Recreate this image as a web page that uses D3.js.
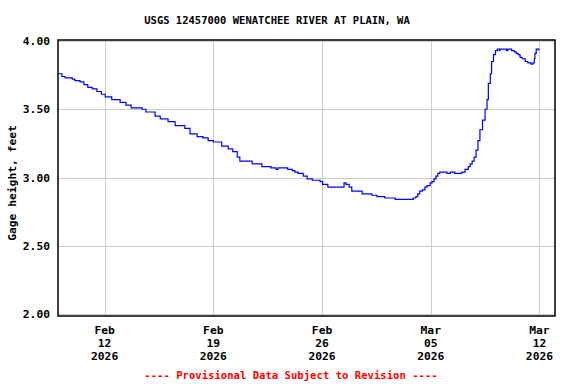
<!DOCTYPE html>
<html>
<head>
<meta charset="utf-8">
<script src="https://cdn.jsdelivr.net/npm/d3@7"></script>
<style>
  body { margin: 0; background: #fff; }
  text { font-family: "DejaVu Sans Mono", "Liberation Mono", monospace; font-weight: bold; }
</style>
</head>
<body>
<div id="chart"></div>
<script>
// data (UTC-ish timestamps, feet)
const times = [
  "2026-02-09 00:00","2026-02-09 06:00","2026-02-09 11:00","2026-02-09 22:00","2026-02-10 02:00",
  "2026-02-10 10:00","2026-02-10 16:00","2026-02-10 22:00","2026-02-11 05:00","2026-02-11 12:00",
  "2026-02-11 19:00","2026-02-12 01:00","2026-02-12 11:00","2026-02-13 00:00","2026-02-13 09:00",
  "2026-02-13 17:00","2026-02-14 10:00","2026-02-14 16:00","2026-02-15 06:00","2026-02-15 14:00",
  "2026-02-16 02:00","2026-02-16 13:00","2026-02-17 04:00","2026-02-17 12:00","2026-02-17 23:00",
  "2026-02-18 08:00","2026-02-18 16:00","2026-02-19 00:00","2026-02-19 13:00","2026-02-19 23:00",
  "2026-02-20 06:00","2026-02-20 13:00","2026-02-20 17:00","2026-02-21 12:00","2026-02-22 03:00",
  "2026-02-22 17:00","2026-02-23 01:00","2026-02-23 04:00","2026-02-23 19:00","2026-02-24 02:00",
  "2026-02-24 06:00","2026-02-24 11:00","2026-02-24 19:00","2026-02-25 01:00","2026-02-25 09:00",
  "2026-02-25 21:00","2026-02-26 01:00","2026-02-26 09:00","2026-02-27 10:00","2026-02-27 13:00",
  "2026-02-27 18:00","2026-02-27 22:00","2026-02-28 14:00","2026-03-01 05:00","2026-03-01 13:00",
  "2026-03-02 01:00","2026-03-02 17:00","2026-03-03 21:00","2026-03-04 01:00","2026-03-04 04:00",
  "2026-03-04 07:00","2026-03-04 11:00","2026-03-04 15:00","2026-03-04 18:00","2026-03-04 23:00",
  "2026-03-05 02:00","2026-03-05 05:00","2026-03-05 08:00","2026-03-05 11:00","2026-03-05 14:00",
  "2026-03-06 01:00","2026-03-06 06:00","2026-03-06 13:00","2026-03-07 00:00","2026-03-07 05:00",
  "2026-03-07 10:00","2026-03-07 13:00","2026-03-07 16:00","2026-03-07 19:00","2026-03-07 22:00",
  "2026-03-08 01:00","2026-03-08 04:00","2026-03-08 08:00","2026-03-08 12:00","2026-03-08 15:00",
  "2026-03-08 17:00","2026-03-08 20:00","2026-03-08 22:00","2026-03-09 01:00","2026-03-09 04:00",
  "2026-03-09 07:00","2026-03-09 10:00","2026-03-09 11:00","2026-03-09 21:00","2026-03-09 23:00",
  "2026-03-10 05:00","2026-03-10 09:00","2026-03-10 12:00","2026-03-10 15:00","2026-03-10 18:00",
  "2026-03-10 21:00","2026-03-11 02:00","2026-03-11 06:00","2026-03-11 11:00","2026-03-11 14:00",
  "2026-03-11 16:00","2026-03-11 17:00","2026-03-11 19:00","2026-03-11 23:00"
];
const heights = [
  3.76,3.74,3.73,3.72,3.71,
  3.70,3.68,3.66,3.65,3.63,
  3.61,3.59,3.57,3.55,3.53,
  3.51,3.50,3.48,3.45,3.43,
  3.41,3.38,3.36,3.32,3.30,
  3.29,3.27,3.26,3.23,3.21,
  3.19,3.15,3.12,3.10,3.08,
  3.07,3.06,3.07,3.06,3.05,
  3.04,3.03,3.01,2.99,2.98,
  2.97,2.95,2.93,2.96,2.95,
  2.93,2.90,2.88,2.87,2.86,
  2.85,2.84,2.85,2.86,2.88,
  2.90,2.91,2.93,2.94,2.96,
  2.97,2.99,3.01,3.03,3.04,
  3.03,3.04,3.03,3.04,3.06,
  3.08,3.10,3.12,3.15,3.20,
  3.27,3.35,3.42,3.50,3.57,
  3.69,3.76,3.85,3.90,3.93,
  3.94,3.93,3.94,3.93,3.94,
  3.93,3.92,3.91,3.90,3.88,
  3.87,3.85,3.84,3.83,3.84,
  3.87,3.91,3.94,3.93
];
const yTicks = [2.0, 2.5, 3.0, 3.5, 4.0];
const xTicks = ["2026-02-12", "2026-02-19", "2026-02-26", "2026-03-05", "2026-03-12"];
const xDomain = ["2026-02-09", "2026-03-13"];

const title = "USGS 12457000 WENATCHEE RIVER AT PLAIN, WA";
const yLabel = "Gage height, feet";
const footer = "---- Provisional Data Subject to Revision ----";

const W = 576, H = 384;
const box = { left: 58, right: 555, top: 40, bottom: 316 };

const parseT = d3.utcParse("%Y-%m-%d %H:%M");
const parseD = d3.utcParse("%Y-%m-%d");
const data = times.map((t, i) => ({ t: parseT(t), v: heights[i] }));

const x = d3.scaleUtc()
  .domain(xDomain.map(parseD))
  .range([box.left, box.right]);
const y = d3.scaleLinear()
  .domain([2, 4])
  .range([314, 41]);

const svg = d3.select("#chart").append("svg")
  .attr("width", W)
  .attr("height", H);

svg.append("rect").attr("width", W).attr("height", H).attr("fill", "#fff");

// grid
const grid = svg.append("g").attr("stroke", "#cccccc").attr("stroke-width", 1).attr("shape-rendering", "crispEdges");
grid.selectAll("line.h").data(yTicks).join("line")
  .attr("x1", box.left).attr("x2", box.right)
  .attr("y1", d => Math.round(y(d)) + 0.5).attr("y2", d => Math.round(y(d)) + 0.5);
grid.selectAll("line.v").data(xTicks).join("line")
  .attr("x1", d => Math.round(x(parseD(d))) + 0.5).attr("x2", d => Math.round(x(parseD(d))) + 0.5)
  .attr("y1", box.top).attr("y2", box.bottom);

// series
const line = d3.line()
  .x(d => x(d.t))
  .y(d => y(d.v))
  .curve(d3.curveStepAfter);
svg.append("path")
  .datum(data)
  .attr("fill", "none")
  .attr("stroke", "#0000ff")
  .attr("stroke-width", 1.2)
  .attr("d", line);

// frame
svg.append("rect")
  .attr("x", box.left).attr("y", box.top)
  .attr("width", box.right - box.left).attr("height", box.bottom - box.top)
  .attr("fill", "none").attr("stroke", "#000").attr("stroke-width", 1.5);

// y tick labels
svg.selectAll("text.yt").data(yTicks).join("text")
  .attr("x", 50).attr("y", d => y(d) + 4)
  .attr("text-anchor", "end")
  .attr("font-size", "11.3px")
  .text(d3.format(".2f"));

// x tick labels (three lines each)
const fmtM = d3.utcFormat("%b"), fmtD = d3.utcFormat("%d"), fmtY = d3.utcFormat("%Y");
const xt = svg.selectAll("g.xt").data(xTicks.map(parseD)).join("g")
  .attr("transform", d => `translate(${x(d)},0)`)
  .attr("font-size", "11.3px")
  .attr("text-anchor", "middle");
xt.append("text").attr("y", 334).text(fmtM);
xt.append("text").attr("y", 347).text(fmtD);
xt.append("text").attr("y", 360).text(fmtY);

// title
svg.append("text")
  .attr("x", 277).attr("y", 24)
  .attr("text-anchor", "middle")
  .attr("font-size", "10.5px")
  .text(title);

// y axis label
svg.append("text")
  .attr("transform", "translate(16,183) rotate(-90)")
  .attr("text-anchor", "middle")
  .attr("font-size", "11.3px")
  .text(yLabel);

// footer
svg.append("text")
  .attr("x", 291).attr("y", 379)
  .attr("text-anchor", "middle")
  .attr("font-size", "10.6px")
  .attr("fill", "#ff0000")
  .text(footer);
</script>
</body>
</html>
